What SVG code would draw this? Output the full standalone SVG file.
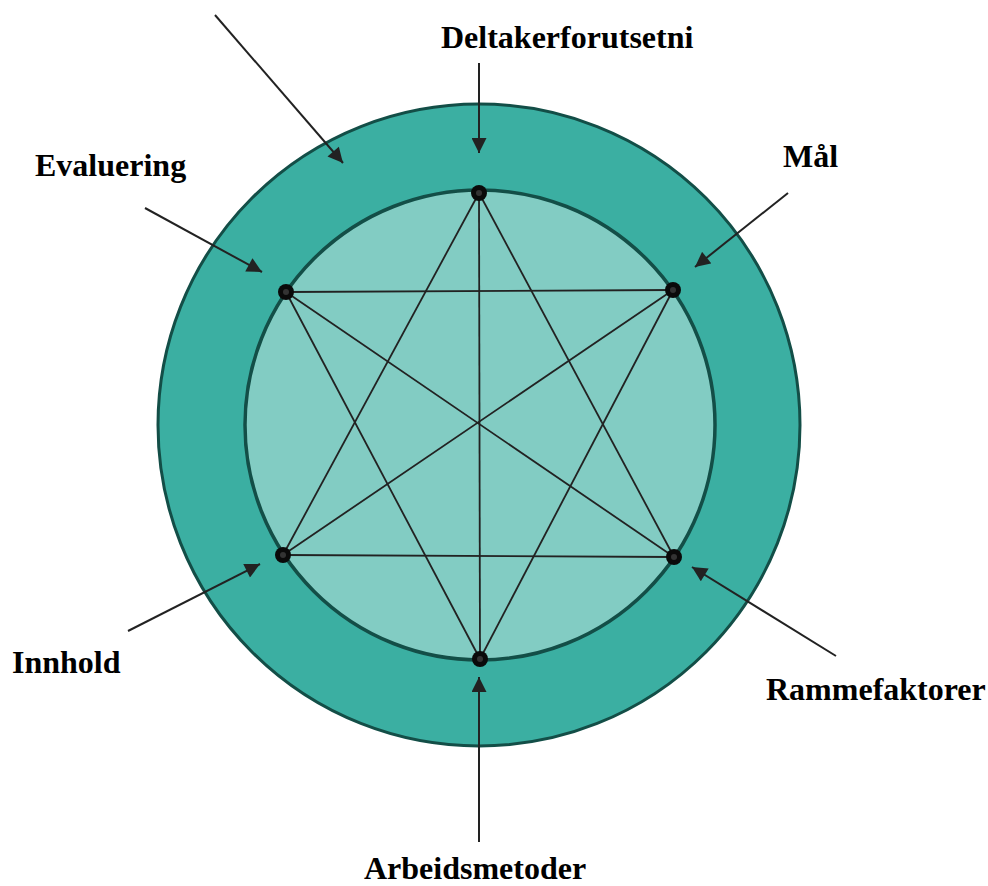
<svg xmlns="http://www.w3.org/2000/svg" width="988" height="886" viewBox="0 0 988 886">
<style>
.lbl{font-family:"Liberation Serif",Tinos,"Times New Roman","DejaVu Serif",serif;font-weight:700;font-size:32px;fill:#000}
.edge{stroke:#222;stroke-width:1.8;fill:none}
.arr{stroke:#222;stroke-width:2;fill:none;marker-end:url(#ah)}
.dot{fill:#0a0a0a}
.dotc{fill:#333}
</style>
<defs>
<marker id="ah" viewBox="0 0 10 10" refX="10" refY="5" markerWidth="8" markerHeight="7.5" orient="auto" markerUnits="strokeWidth">
<path d="M0,0 L10,5 L0,10 Z" fill="#222"/>
</marker>
</defs>
<g id="outer-ring">
<circle cx="479" cy="425" r="321" fill="#3BAFA2" stroke="#134E47" stroke-width="3"/>
</g>
<g id="inner-circle">
<circle cx="480" cy="425" r="235" fill="#82CCC3" stroke="#134E47" stroke-width="3.5"/>
</g>
<g id="connectors">
<line class="edge" x1="479" y1="193" x2="480" y2="659"/>
<line class="edge" x1="479" y1="193" x2="283" y2="555"/>
<line class="edge" x1="479" y1="193" x2="674" y2="557"/>
<line class="edge" x1="283" y1="555" x2="674" y2="557"/>
<line class="edge" x1="286" y1="292" x2="673" y2="290"/>
<line class="edge" x1="286" y1="292" x2="480" y2="659"/>
<line class="edge" x1="673" y1="290" x2="480" y2="659"/>
<line class="edge" x1="286" y1="292" x2="674" y2="557"/>
<line class="edge" x1="673" y1="290" x2="283" y2="555"/>
<line class="arr" x1="215" y1="15" x2="343" y2="163"/>
<line class="arr" x1="479" y1="63" x2="479" y2="153"/>
<line class="arr" x1="788" y1="193" x2="695" y2="267"/>
<line class="arr" x1="145" y1="208" x2="262" y2="272"/>
<line class="arr" x1="128" y1="631" x2="260" y2="564"/>
<line class="arr" x1="836" y1="656" x2="692" y2="567"/>
<line class="arr" x1="479" y1="842" x2="479" y2="677"/>
</g>
<g id="node-top"><circle class="dot" cx="479" cy="193" r="8"/><circle class="dotc" cx="479" cy="193" r="3"/></g>
<g id="node-upper-left"><circle class="dot" cx="286" cy="292" r="8"/><circle class="dotc" cx="286" cy="292" r="3"/></g>
<g id="node-upper-right"><circle class="dot" cx="673" cy="290" r="8"/><circle class="dotc" cx="673" cy="290" r="3"/></g>
<g id="node-lower-left"><circle class="dot" cx="283" cy="555" r="8"/><circle class="dotc" cx="283" cy="555" r="3"/></g>
<g id="node-lower-right"><circle class="dot" cx="674" cy="557" r="8"/><circle class="dotc" cx="674" cy="557" r="3"/></g>
<g id="node-bottom"><circle class="dot" cx="480" cy="659" r="8"/><circle class="dotc" cx="480" cy="659" r="3"/></g>
<g id="label-deltaker"><text class="lbl" x="441" y="48">Deltakerforutsetni</text></g>
<g id="label-evaluering"><text class="lbl" x="35" y="176">Evaluering</text></g>
<g id="label-mal"><text class="lbl" x="783" y="167">Mål</text></g>
<g id="label-innhold"><text class="lbl" x="12" y="673">Innhold</text></g>
<g id="label-rammefaktorer"><text class="lbl" x="766" y="700">Rammefaktorer</text></g>
<g id="label-arbeidsmetoder"><text class="lbl" x="364" y="879">Arbeidsmetoder</text></g>
</svg>
